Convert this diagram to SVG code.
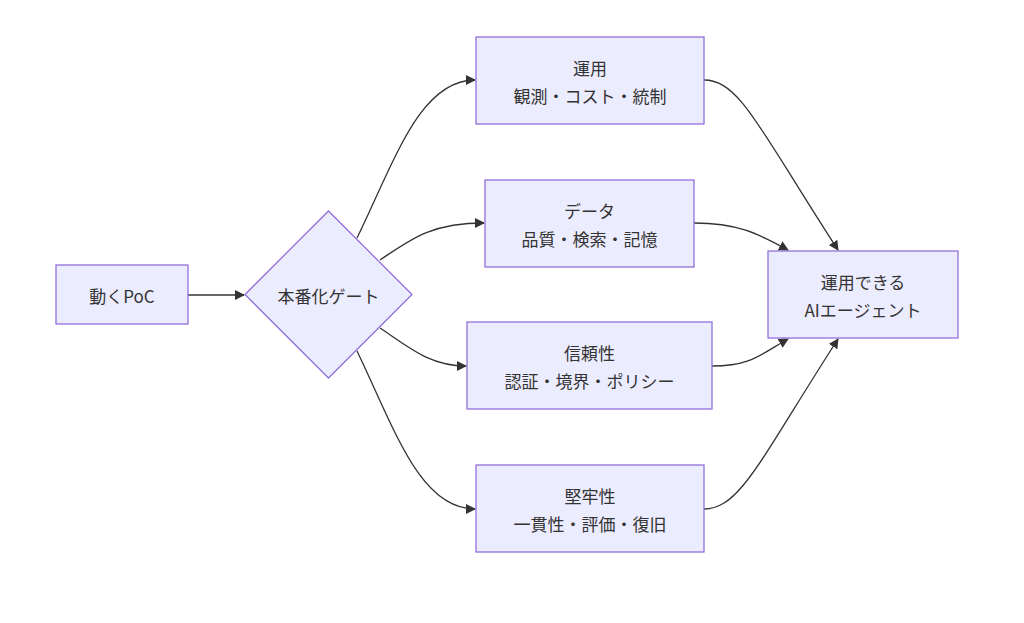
<svg xmlns="http://www.w3.org/2000/svg" width="1024" height="623" viewBox="0 0 1024 623">
<style>
.node{fill:#ECECFF;stroke:#9370DB;stroke-width:1.3}
.lbl{font-family:"Noto Sans CJK JP","Noto Sans",sans-serif;font-size:17px;fill:#333;text-anchor:middle;dominant-baseline:central}
.edge{fill:none;stroke:#333;stroke-width:1.3}
</style>
<defs>
<marker id="arr" viewBox="0 0 10 10" refX="9" refY="5" markerWidth="10" markerHeight="10" markerUnits="userSpaceOnUse" orient="auto">
<path d="M0,0 L10,5 L0,10 z" fill="#333"/>
</marker>
</defs>
<rect width="1024" height="623" fill="#fff"/>
<g id="edges">
<path class="edge" d="M188,295 L244,295" marker-end="url(#arr)"/>
<path class="edge" d="M357,238 C395,160 420,80 475,80" marker-end="url(#arr)"/>
<path class="edge" d="M380,260 C410,240 430,223 484,223" marker-end="url(#arr)"/>
<path class="edge" d="M380,328 C410,348 430,366 466,366" marker-end="url(#arr)"/>
<path class="edge" d="M357,351 C395,430 420,509 475,509" marker-end="url(#arr)"/>
<path class="edge" d="M704,80 C740,80 760,130 838,250" marker-end="url(#arr)"/>
<path class="edge" d="M694,223 C740,223 760,235 788,250" marker-end="url(#arr)"/>
<path class="edge" d="M712,366 C750,366 760,355 788,339" marker-end="url(#arr)"/>
<path class="edge" d="M704,509 C740,509 760,460 838,339" marker-end="url(#arr)"/>
</g>
<g id="poc">
<rect class="node" x="56" y="265" width="132" height="59"/>
<text class="lbl" x="122" y="295">動くPoC</text>
</g>
<g id="gate">
<polygon class="node" points="328.5,211 412,294.5 328.5,378 245,294.5"/>
<text class="lbl" x="328.5" y="295">本番化ゲート</text>
</g>
<g id="ops">
<rect class="node" x="476" y="37" width="228" height="87"/>
<text class="lbl" x="590" y="67">運用</text>
<text class="lbl" x="590" y="95">観測・コスト・統制</text>
</g>
<g id="data">
<rect class="node" x="485" y="180" width="209" height="87"/>
<text class="lbl" x="589.5" y="210">データ</text>
<text class="lbl" x="589.5" y="238">品質・検索・記憶</text>
</g>
<g id="trust">
<rect class="node" x="467" y="322" width="245" height="87"/>
<text class="lbl" x="589.5" y="352">信頼性</text>
<text class="lbl" x="589.5" y="380">認証・境界・ポリシー</text>
</g>
<g id="robust">
<rect class="node" x="476" y="465" width="228" height="87"/>
<text class="lbl" x="590" y="495">堅牢性</text>
<text class="lbl" x="590" y="523">一貫性・評価・復旧</text>
</g>
<g id="agent">
<rect class="node" x="768" y="251" width="190" height="87"/>
<text class="lbl" x="863" y="281">運用できる</text>
<text class="lbl" x="863" y="309">AIエージェント</text>
</g>
</svg>
